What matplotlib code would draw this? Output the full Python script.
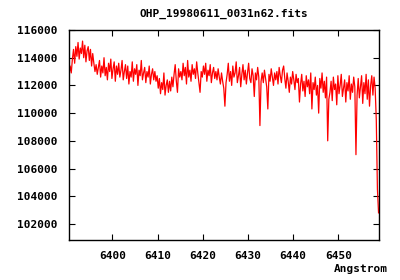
import numpy as np
import matplotlib
matplotlib.use("Agg")
import matplotlib.pyplot as plt

TITLE = "OHP_19980611_0031n62.fits"
XLABEL = "Angstrom"
WAVE_START = 6390.4
WAVE_STEP = 0.25
XTICKS = [6400, 6410, 6420, 6430, 6440, 6450]
YTICKS = [102000, 104000, 106000, 108000, 110000, 112000, 114000, 116000]

flux_a = [112800, 113400, 112900]
flux_b = [113900, 114600, 113600, 114800, 114100, 115100, 113900, 114700, 114300, 115200,
          114000, 114900, 113700, 114500, 114800, 113800, 114600, 113400, 114300, 113600]
flux_c = [113000, 113500, 112800, 113300]
flux_d = [113800, 112600, 113400, 112900, 114000, 112700, 113300, 112400, 113600, 113000,
          113900, 112500, 113200, 113700, 112300, 113400, 112800, 113600, 112600, 113100,
          113800, 112400, 113000, 113500]
flux_e = [112500, 113400, 112100, 113000, 112600, 113700, 112300, 113200, 112800, 113500,
          112000, 113100, 112700, 113800, 112400, 112900, 113300, 112200, 113000, 112600,
          113400, 112100, 112800, 113200, 112400, 113000, 112300, 112700]
flux_f = [111800, 112500, 111400, 112200, 111700, 112900, 111300, 112000, 112400, 111500,
          112300, 111600, 112600, 111900]
flux_g = [112800, 113500, 112300, 111500, 113200, 112600]
flux_h = [113000, 112400, 113600, 112700, 113300, 112100, 113800, 112600, 113100, 112300,
          113500, 112800, 113200, 112500, 113700, 112900, 112200, 111500, 113000, 112600,
          113400, 112800, 113600, 112300, 113100, 112700, 113500, 112200, 112900, 113300,
          112500, 113000, 112400, 113200, 112600, 112100, 112900, 112300]
flux_i = [111800, 110500, 112200]
flux_j = [112800, 113600, 112300, 113000, 112000, 113400, 112600, 112900, 113700, 112200,
          112700, 113300, 111900, 112800, 113500, 112400, 113100, 112100, 112900, 113600,
          112500, 112200, 113200, 112700, 111200, 112900, 112400, 113300, 112600, 109100,
          112300]
flux_k = [112900, 112200, 113100, 112500, 111900, 110300, 112800, 112300, 113200, 112600,
          112000, 112900]
flux_l = [112400, 113000, 112100, 113300, 112700, 112200, 113100, 113400, 112500, 111800,
          112900, 112300, 111500, 112600, 112100, 113000, 112400, 111700, 112800, 112200]
flux_m = [112500, 110800, 112100, 112800, 111600, 112300, 111200, 112700, 111900, 112400,
          111400, 112900, 110300, 112200, 111700, 112600, 111300, 112000, 110000, 112500,
          111800, 112900, 111500, 112300, 111100, 112600, 108000, 111000]
flux_n = [111500, 112300, 110900, 112600, 111700, 112100, 110600, 112700, 111400, 112000,
          112800, 111200, 111800, 112400, 110800, 112200, 111600, 112700, 111000, 112100,
          111500, 112600, 111900, 107000, 111300, 112500, 111100, 111900, 112700, 110700,
          112200, 111400, 112800, 111000, 112400, 110500, 112000, 112700, 111300, 112600,
          111800]
flux_o = [109500, 104500, 102800]

flux = np.array(flux_a + flux_b + flux_c + flux_d + flux_e + flux_f + flux_g + flux_h +
                flux_i + flux_j + flux_k + flux_l + flux_m + flux_n + flux_o, dtype=float)
wave = WAVE_START + WAVE_STEP * np.arange(len(flux))

plt.rcParams['font.family'] = ['DejaVu Sans Mono']
plt.rcParams['font.weight'] = 'bold'

fig = plt.figure(figsize=(4.0, 2.8), dpi=100)
ax = fig.add_axes([69/400, 1-240/280, 310/400, 210/280])
ax.plot(wave, flux, color='#ff0000', lw=0.9)
ax.set_xlim(6390.4, 6459.0)
ax.set_ylim(100840, 116000)
ax.set_xticks(XTICKS)
ax.set_yticks(YTICKS)
ax.tick_params(direction='in', length=4, width=0.8, top=True, right=True,
               labelsize=8, pad=8)
for lab in ax.get_xticklabels() + ax.get_yticklabels():
    lab.set_fontweight('bold')
for s in ax.spines.values():
    s.set_linewidth(1.0)
    s.set_color('black')
fig.text(224/400, 1-14/280, TITLE, ha='center', va='center', fontsize=8, fontweight='bold')
fig.text(388/400, 1-269/280, XLABEL, ha='right', va='center', fontsize=8, fontweight='bold')
fig.savefig("out.png", dpi=100)
